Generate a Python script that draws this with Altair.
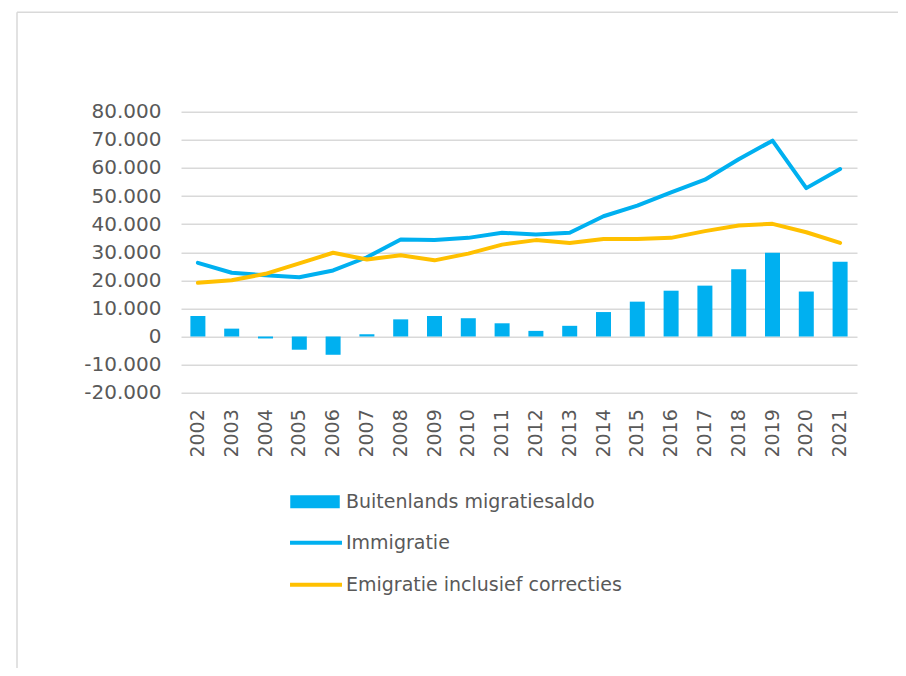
import altair as alt
import pandas as pd

jaren = [str(y) for y in range(2002, 2022)]
saldo = [7300, 2800, -700, -4700, -6500, 800, 6100, 7300, 6500, 4700,
         2000, 3800, 8700, 12400, 16300, 18100, 23900, 29800, 16000, 26600]
immigratie = [26200, 22700, 21800, 21100, 23500, 28200, 34500, 34300, 35100, 36900,
              36300, 36900, 42800, 46600, 51300, 55800, 63100, 69700, 52800, 59600]
emigratie = [19100, 20000, 22300, 26000, 29800, 27400, 28900, 27100, 29500, 32700,
             34300, 33300, 34700, 34700, 35100, 37500, 39500, 40100, 37100, 33300]

BAR_NAME = "Buitenlands migratiesaldo"
LINE_NAMES = ["Immigratie", "Emigratie inclusief correcties"]
BLUE = "#00B0F0"
YELLOW = "#FFC000"
TEXT = "#595959"
GRID = "#D9D9D9"
FONT = "DejaVu Sans"

df_bar = pd.DataFrame({"jaar": jaren, "waarde": saldo, "reeks": BAR_NAME})
df_line = pd.concat([
    pd.DataFrame({"jaar": jaren, "waarde": immigratie, "reeks": LINE_NAMES[0]}),
    pd.DataFrame({"jaar": jaren, "waarde": emigratie, "reeks": LINE_NAMES[1]}),
])

x_enc = alt.X(
    "jaar:O",
    sort=jaren,
    title=None,
    scale=alt.Scale(paddingInner=0, paddingOuter=0),
    axis=alt.Axis(labelAngle=270, labelFontSize=19, labelColor=TEXT, labelFont=FONT,
                  labelPadding=16, domain=False, ticks=False, grid=False,
                  labelBaseline="middle"),
)
y_enc = alt.Y(
    "waarde:Q",
    title=None,
    scale=alt.Scale(domain=[-20000, 80000], nice=False, zero=False),
    axis=alt.Axis(values=list(range(-20000, 80001, 10000)),
                  labelExpr="replace(replace(format(datum.value, ','), ',', '.'), '\u2212', '-')",
                  labelFontSize=20, labelColor=TEXT, labelFont=FONT, labelPadding=20,
                  domain=False, ticks=False, grid=True, gridColor=GRID, gridWidth=1.5),
)

bars = alt.Chart(df_bar).mark_bar(size=15).encode(
    x=x_enc,
    y=y_enc,
    fill=alt.Fill("reeks:N", scale=alt.Scale(domain=[BAR_NAME], range=[BLUE]),
                  legend=alt.Legend(orient="none", legendX=109, legendY=365, title=None,
                                    symbolType="M-1,-0.26H1V0.26H-1Z", symbolSize=2450,
                                    symbolStrokeWidth=0, labelFontSize=19, labelColor=TEXT,
                                    labelFont=FONT, labelOffset=6, labelLimit=0, padding=0)),
)

lines = alt.Chart(df_line).mark_line(strokeWidth=4, strokeCap="round", strokeJoin="round").encode(
    x=x_enc,
    y=y_enc,
    stroke=alt.Stroke("reeks:N", scale=alt.Scale(domain=LINE_NAMES, range=[BLUE, YELLOW]),
                      sort=LINE_NAMES,
                      legend=alt.Legend(orient="none", legendX=107, legendY=403, title=None,
                                        symbolType="stroke", symbolSize=2700,
                                        symbolStrokeWidth=4, labelFontSize=19, labelColor=TEXT,
                                        labelFont=FONT, labelOffset=2, labelLimit=0,
                                        padding=0, rowPadding=4)),
)

frame_src = pd.DataFrame({"k": [0]})
frame_top = alt.Chart(frame_src).mark_rule(color=GRID, strokeWidth=1.5).encode(
    x=alt.value(-164), x2=alt.value(720), y=alt.value(-99.5))
frame_left = alt.Chart(frame_src).mark_rule(color=GRID, strokeWidth=1.5).encode(
    x=alt.value(-164), y=alt.value(-99.5), y2=alt.value(560))

chart = alt.layer(frame_top, frame_left, bars, lines).resolve_scale(
    fill="independent", stroke="independent"
).properties(
    width=676, height=281,
    background="white",
    autosize=alt.AutoSizeParams(type="none"),
    padding={"left": 173, "top": 103.7, "right": 41, "bottom": 275.3},
).configure_view(strokeWidth=0, stroke=None)

chart.save("out.html", embed_options={"renderer": "svg", "actions": False})
